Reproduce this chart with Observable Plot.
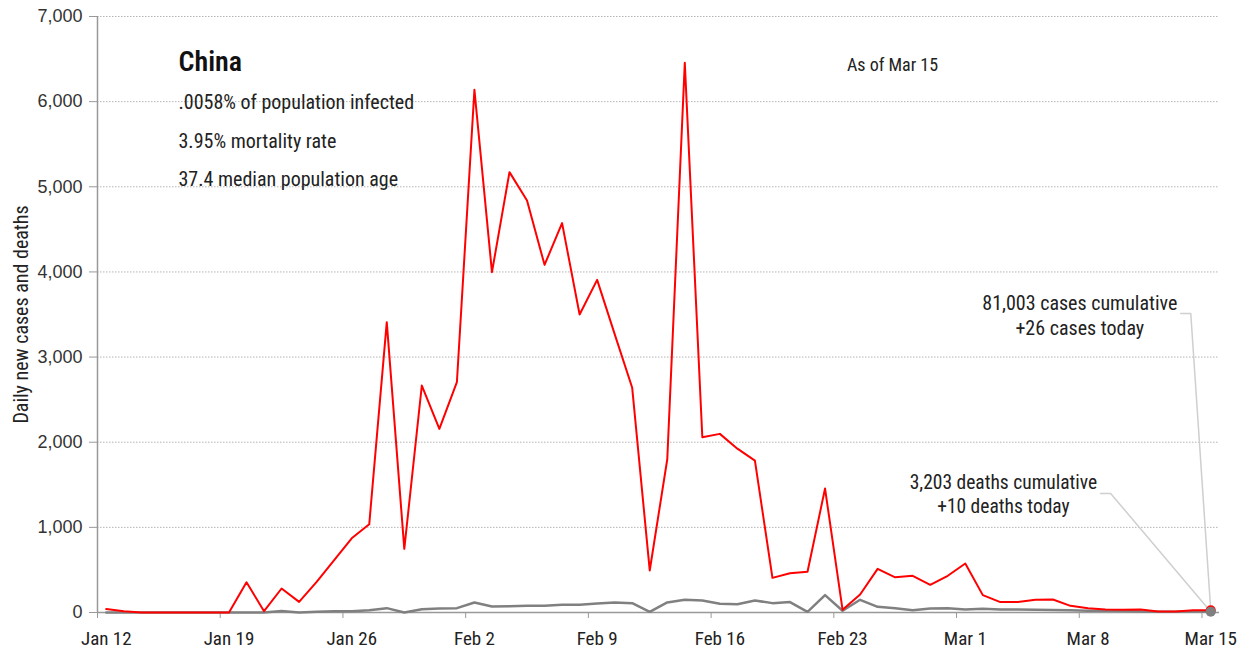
<!DOCTYPE html>
<html>
<head>
<meta charset="utf-8">
<script src="https://cdn.jsdelivr.net/npm/d3@7"></script>
<script src="https://cdn.jsdelivr.net/npm/@observablehq/plot@0.6"></script>
<style>
  html, body { margin: 0; padding: 0; background: #fff; }
</style>
</head>
<body>
<div id="chart"></div>
<script>
// ---- data ----
const days = [
  "2020-01-12","2020-01-13","2020-01-14","2020-01-15","2020-01-16","2020-01-17","2020-01-18","2020-01-19",
  "2020-01-20","2020-01-21","2020-01-22","2020-01-23","2020-01-24","2020-01-25","2020-01-26","2020-01-27",
  "2020-01-28","2020-01-29","2020-01-30","2020-01-31",
  "2020-02-01","2020-02-02","2020-02-03","2020-02-04","2020-02-05","2020-02-06","2020-02-07","2020-02-08",
  "2020-02-09","2020-02-10","2020-02-11","2020-02-12","2020-02-13","2020-02-14","2020-02-15","2020-02-16",
  "2020-02-17","2020-02-18","2020-02-19","2020-02-20","2020-02-21","2020-02-22","2020-02-23","2020-02-24",
  "2020-02-25","2020-02-26","2020-02-27","2020-02-28","2020-02-29",
  "2020-03-01","2020-03-02","2020-03-03","2020-03-04","2020-03-05","2020-03-06","2020-03-07","2020-03-08",
  "2020-03-09","2020-03-10","2020-03-11","2020-03-12","2020-03-13","2020-03-14","2020-03-15"
];
const cases = [
  40,15,0,0,0,0,0,0,355,15,282,125,360,615,872,1036,3410,748,2666,2157,
  2705,6139,3997,5172,4839,4083,4573,3500,3907,3270,2639,493,1800,6456,2059,2098,1924,1783,407,462,478,1456,31,211,513,413,431,325,431,
  576,204,122,122,149,153,78,51,35,31,35,12,12,27,26
];
const deaths = [
  0,0,0,0,0,0,0,0,0,0,17,0,8,16,16,27,51,0,39,47,
  51,118,70,74,78,80,90,92,106,118,110,8,118,149,141,102,98,141,110,122,8,204,20,149,67,50,27,47,51,
  35,43,35,35,31,28,27,22,20,17,11,8,10,14,10
];
const tickDays = ["2020-01-12","2020-01-19","2020-01-26","2020-02-02","2020-02-09","2020-02-16","2020-02-23","2020-03-01","2020-03-08","2020-03-15"];
const yTicks = [0,1000,2000,3000,4000,5000,6000,7000];
const titleText = "China";
const statLines = [".0058% of population infected", "3.95% mortality rate", "37.4 median population age"];
const asOfText = "As of Mar 15";
const casesNote = "81,003 cases cumulative\n+26 cases today";
const deathsNote = "3,203 deaths cumulative\n+10 deaths today";
const yTitle = "Daily new cases and deaths";

// ---- build ----
const parse = d3.utcParse("%Y-%m-%d");
const noon = s => d3.utcHour.offset(parse(s), 12);
const rows = days.map((d, i) => ({date: noon(d), cases: cases[i], deaths: deaths[i]}));
const last = rows[rows.length - 1];
const xDomain = [parse("2020-01-12"), parse("2020-03-16")];

// annotation leader lines, in data units (start, elbow, end at the last point)
const casesAnchor = [{date: d3.utcHour.offset(parse("2020-03-13"), 19), v: 3512}, {date: d3.utcMinute.offset(parse("2020-03-14"), 520), v: 3512}, {date: last.date, v: last.cases}];
const deathsAnchor = [{date: d3.utcHour.offset(parse("2020-03-09"), 5), v: 1398}, {date: d3.utcHour.offset(parse("2020-03-09"), 19), v: 1398}, {date: last.date, v: last.deaths}];

const narrow = "'Liberation Sans Narrow', 'Arial Narrow', 'Roboto Condensed', 'DejaVu Sans Condensed', sans-serif";
const ink = "#222";

const chart = Plot.plot({
  width: 1247,
  height: 651,
  marginLeft: 97,
  marginRight: 28,
  marginTop: 16,
  marginBottom: 39,
  style: {background: "#fff", fontFamily: narrow, overflow: "visible"},
  x: {type: "utc", domain: xDomain, label: null},
  y: {domain: [0, 7000], label: null},
  marks: [
    Plot.gridY(yTicks.filter(d => d > 0), {stroke: "#b4b4b4", strokeOpacity: 1, strokeWidth: 1, strokeDasharray: "1.5,1.5"}),
    Plot.axisY(yTicks, {tickSize: 8, tickPadding: 7, tickFormat: d3.format(","), fontSize: 18,
      fontFamily: "'Liberation Sans', Arial, sans-serif", fill: "#333", stroke: "#999", label: null}),
    Plot.ruleX([xDomain[0]], {stroke: "#999", strokeWidth: 1.5}),
    Plot.ruleY([0], {stroke: "#999", strokeWidth: 1.5}),
    Plot.axisX(tickDays.map(parse), {tickSize: 6, tickFormat: () => "", stroke: "#999", label: null}),
    Plot.axisX(tickDays.map(noon), {tickSize: 0, tickPadding: 19, tickFormat: d3.utcFormat("%b %-d"),
      fontSize: 19, fill: ink, label: null}),
    Plot.text([yTitle], {frameAnchor: "left", rotate: -90, dx: -70, textAnchor: "middle", lineAnchor: "bottom", fontSize: 20, fill: ink}),
    Plot.line(rows, {x: "date", y: "deaths", stroke: "#808080", strokeWidth: 2.5}),
    Plot.line(rows, {x: "date", y: "cases", stroke: "#ff0000", strokeWidth: 2}),
    Plot.line(casesAnchor, {x: "date", y: "v", stroke: "#cfcfcf", strokeWidth: 1.5}),
    Plot.line(deathsAnchor, {x: "date", y: "v", stroke: "#cfcfcf", strokeWidth: 1.5}),
    Plot.dot([last], {x: "date", y: "cases", r: 5, fill: "#ff0000"}),
    Plot.dot([last], {x: "date", y: "deaths", r: 5, fill: "#808080"}),
    Plot.text([casesNote], {x: () => casesAnchor[0].date, y: () => casesAnchor[0].v, dx: -101, dy: 22,
      textAnchor: "middle", lineAnchor: "bottom", lineHeight: 1.25, fontSize: 20, fill: ink}),
    Plot.text([deathsNote], {x: () => deathsAnchor[0].date, y: () => deathsAnchor[0].v, dx: -97, dy: 20,
      textAnchor: "middle", lineAnchor: "bottom", lineHeight: 1.25, fontSize: 19.5, fill: ink}),
    Plot.text([titleText], {frameAnchor: "top-left", dx: 81, dy: 54, textAnchor: "start", lineAnchor: "bottom",
      fontSize: 28, fontWeight: 600, fill: "#111"}),
    Plot.text([statLines[0]], {frameAnchor: "top-left", dx: 81, dy: 92, textAnchor: "start", lineAnchor: "bottom", fontSize: 20, fill: ink}),
    Plot.text([statLines[1]], {frameAnchor: "top-left", dx: 81, dy: 131, textAnchor: "start", lineAnchor: "bottom", fontSize: 20, fill: ink}),
    Plot.text([statLines[2]], {frameAnchor: "top-left", dx: 81, dy: 169, textAnchor: "start", lineAnchor: "bottom", fontSize: 20, fill: ink}),
    Plot.text([asOfText], {frameAnchor: "top-left", dx: 795, dy: 54, textAnchor: "middle", lineAnchor: "bottom", fontSize: 18, fill: ink})
  ]
});
document.getElementById("chart").appendChild(chart);
</script>
</body>
</html>
